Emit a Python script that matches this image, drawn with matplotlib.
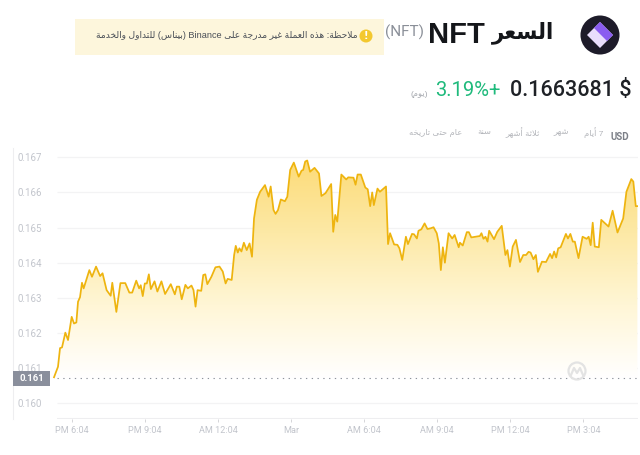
import matplotlib
matplotlib.use('Agg')
import matplotlib.pyplot as plt
import numpy as np
from matplotlib.colors import LinearSegmentedColormap
from matplotlib.patches import Circle, Polygon, Rectangle

# minutes since the PM 6:04 tick
minutes = [-43.5, -33.7, -28.7, -23.8, -15.6, -9, 0, 5.7, 11.5, 15.6, 20.5, 25.4, 29.5, 43.5, 50, 60, 70, 76, 86, 96,
           100, 110, 120, 132, 142, 149, 159, 166, 170, 175, 180, 185, 190, 195, 204, 211, 221, 230, 244, 254,
           259, 265, 271, 280, 286, 295, 300, 305, 310, 319, 324, 329, 334, 344, 354, 364, 372, 379, 384, 394,
           400, 404, 409, 413, 418, 424, 431, 438, 444, 449, 456, 464, 476, 485, 490, 497, 502, 508, 515, 525,
           531, 538, 547, 554, 559, 566, 570, 575, 580, 587, 598, 609, 615, 625, 639, 644, 649, 654, 664, 676,
           681, 694, 699, 704, 712, 723, 729, 735, 740, 744, 753, 759, 774, 779, 784, 794, 802, 807, 814, 823,
           828, 838, 843, 850, 854, 861, 869, 876, 884, 891, 899, 904, 909, 914, 919, 928, 937, 943, 953, 956,
           963, 973, 978, 984, 1005, 1009, 1014, 1019, 1024, 1028, 1040, 1048, 1059, 1068, 1073, 1079, 1086, 1094, 1104, 1112,
           1119, 1125, 1130, 1137, 1143, 1148, 1158, 1168, 1178, 1183, 1188, 1193, 1198, 1204, 1217, 1222, 1228, 1234, 1239, 1248,
           1258, 1268, 1273, 1278, 1283, 1288, 1298, 1304, 1322, 1332, 1344, 1358, 1366, 1378, 1383, 1389, 1393]
prices = [160.74, 161.04, 161.57, 161.59, 162.01, 161.80, 162.46, 162.27, 162.30, 162.89, 163.02, 163.43, 163.27, 163.79, 163.60, 163.89, 163.62, 163.70, 163.22, 163.06,
          163.43, 162.60, 163.42, 163.42, 163.15, 163.15, 163.49, 163.27, 163.36, 163.05, 163.41, 163.41, 163.67, 163.25, 163.47, 163.18, 163.47, 163.11, 163.39, 163.10,
          163.32, 163.32, 162.96, 163.37, 163.27, 163.35, 163.22, 162.75, 163.22, 163.20, 163.65, 163.67, 163.39, 163.60, 163.87, 163.89, 163.75, 163.41, 163.54, 163.51,
          164.22, 164.48, 164.29, 164.41, 164.32, 164.57, 164.36, 164.55, 164.17, 165.26, 165.79, 166.02, 166.21, 165.88, 166.17, 165.50, 165.39, 165.50, 165.80, 165.75,
          165.88, 166.64, 166.85, 166.62, 166.45, 166.62, 166.64, 166.88, 166.91, 166.59, 166.70, 166.54, 165.90, 165.98, 166.24, 164.88, 165.36, 165.17, 166.51, 166.37,
          166.43, 166.42, 166.22, 166.51, 166.51, 166.14, 166.09, 165.61, 166.00, 165.64, 166.11, 166.02, 166.17, 164.53, 164.84, 164.52, 164.51, 164.41, 164.08, 164.74,
          164.53, 164.82, 164.81, 164.69, 164.91, 164.95, 165.12, 164.96, 164.98, 165.01, 164.84, 164.55, 163.79, 164.44, 164.00, 164.84, 164.69, 164.79, 164.44, 164.57,
          164.49, 164.87, 164.87, 164.72, 164.76, 164.84, 164.68, 164.74, 164.60, 164.91, 164.67, 164.88, 165.05, 164.22, 164.36, 163.89, 164.46, 164.65, 164.02, 164.22,
          164.22, 164.31, 164.29, 164.10, 164.22, 163.74, 164.03, 164.02, 164.25, 164.13, 164.32, 164.15, 164.41, 164.44, 164.82, 164.69, 164.82, 164.60, 164.60, 164.13,
          164.74, 164.68, 164.74, 164.50, 165.14, 164.46, 164.44, 165.22, 165.03, 165.48, 164.86, 165.26, 166.02, 166.38, 166.31, 165.61, 165.61]

x_tick_pos = [0, 180, 360, 540, 720, 900, 1080, 1260]
x_tick_labels = ['PM 6:04', 'PM 9:04', 'AM 12:04', 'Mar', 'AM 6:04', 'AM 9:04', 'PM 12:04', 'PM 3:04']
y_ticks = [160, 161, 162, 163, 164, 165, 166, 167]
start_price = 160.71

note_text = 'ملاحظة: هذه العملة غير مُدرجة على Binance (بيناس) للتداول والخدمة'
title_text = 'السعر'
period_labels = ['7 أيام', 'شهر', 'ثلاثة أشهر', 'سنة', 'عام حتى تاريخه']
period_right = [603, 569, 540, 491, 462]

# isolated, final, initial, medial; two forms only for letters that don't join forward
forms = {
    'ا': 'ﺍﺎ', 'أ': 'ﺃﺄ', 'ة': 'ﺓﺔ', 'د': 'ﺩﺪ', 'ذ': 'ﺫﺬ', 'ر': 'ﺭﺮ', 'و': 'ﻭﻮ', 'ى': 'ﻯﻰ',
    'ب': 'ﺏﺐﺑﺒ', 'ت': 'ﺕﺖﺗﺘ', 'ث': 'ﺙﺚﺛﺜ', 'ج': 'ﺝﺞﺟﺠ', 'ح': 'ﺡﺢﺣﺤ', 'خ': 'ﺥﺦﺧﺨ',
    'س': 'ﺱﺲﺳﺴ', 'ش': 'ﺵﺶﺷﺸ', 'ظ': 'ﻅﻆﻇﻈ', 'ع': 'ﻉﻊﻋﻌ', 'غ': 'ﻍﻎﻏﻐ', 'ل': 'ﻝﻞﻟﻠ',
    'م': 'ﻡﻢﻣﻤ', 'ن': 'ﻥﻦﻧﻨ', 'ه': 'ﻩﻪﻫﻬ', 'ي': 'ﻱﻲﻳﻴ', 'ك': 'ﻙﻚﻛﻜ',
}
lam_alef = {'ا': 'ﻻﻼ', 'أ': 'ﻷﻸ'}


def shape_word(word):
    # matplotlib has no arabic shaping, so build the visual form of the word
    out = []
    letters = [c for c in word if c != 'ُ']
    i = 0
    while i < len(letters):
        c = letters[i]
        if c not in forms:
            out.append({'(': ')', ')': '('}.get(c, c))
            i += 1
            continue
        prev = letters[i - 1] if i > 0 else ''
        joins_prev = prev in forms and len(forms[prev]) == 4
        if c == 'ل' and i + 1 < len(letters) and letters[i + 1] in lam_alef:
            out.append(lam_alef[letters[i + 1]][1 if joins_prev else 0])
            i += 2
            continue
        nxt = letters[i + 1] if i + 1 < len(letters) else ''
        joins_next = len(forms[c]) == 4 and nxt in forms
        idx = {(False, False): 0, (True, False): 1, (False, True): 2, (True, True): 3}[(joins_prev, joins_next)]
        out.append(forms[c][idx])
        i += 1
    return ''.join(reversed(out))


def shape(text):
    words = []
    for w in text.split(' '):
        words.append(w if w.isascii() else shape_word(w))
    return ' '.join(reversed(words))


arabic = ['Liberation Sans', 'DejaVu Sans']
fig = plt.figure(figsize=(6.4, 4.55), dpi=100, facecolor='white')

# main chart, axes runs from the faint left rule to the right edge of the plot
ax = fig.add_axes([13 / 640, (455 - 419.3) / 455, (638 - 13) / 640, (419.3 - 148) / 455])
ax.set_xlim(-144.5, 1394.5)
ax.set_ylim(159.544, 167.265)
ax.set_facecolor('none')
for s in ['top', 'right']:
    ax.spines[s].set_visible(False)
ax.spines['left'].set_color('#eeeef0')
ax.spines['bottom'].set_visible(False)

ax.hlines(y_ticks, -36, 1394.5, color='#f3f3f4', lw=0.9, zorder=1)
ax.hlines(159.544, -36, 1394.5, color='#eeeef0', lw=1.5, zorder=1)

ax.set_yticks(y_ticks)
ax.set_yticklabels(['%.3f' % (v / 1000) for v in y_ticks], ha='left', fontsize=7, color='#c2c5cc',
                   fontfamily='Roboto')
ax.tick_params(axis='y', length=0, pad=-3.5)
ax.set_xticks(x_tick_pos)
ax.set_xticklabels(x_tick_labels, fontsize=6.6, color='#c2c5cc', fontfamily='Roboto')
ax.tick_params(axis='x', length=2, width=0.7, color='#d5d5d8', pad=3, direction='out')

# vertical fade under the line
cmap = LinearSegmentedColormap.from_list('fade', ['#ffffff', '#fff6d6', '#fde9a6', '#fcdb78'])
grad = np.linspace(0, 1, 256).reshape(-1, 1)
im = ax.imshow(grad, extent=[minutes[0], minutes[-1], start_price, 166.91], origin='lower', aspect='auto',
               cmap=cmap, zorder=2)
area = ax.fill_between(minutes, prices, start_price, color='none', lw=0)
im.set_clip_path(area.get_paths()[0], transform=ax.transData)
ax.set_xlim(-144.5, 1394.5)
ax.set_ylim(159.544, 167.265)

ax.plot(minutes, prices, color='#eeb40f', lw=1.25, zorder=3, solid_joinstyle='round')
ax.hlines(start_price, -36, 1394.5, color='#8f939c', lw=0.8, linestyles=(0, (1.2, 4)), zorder=4)

# overlay in pixel coordinates for the page furniture above the chart
top = fig.add_axes([0, 0, 1, 1])
top.set_xlim(0, 640)
top.set_ylim(455, 0)
top.axis('off')
top.patch.set_alpha(0)

top.add_patch(Rectangle((13, 370.7), 37, 15.3, color='#8a8f9c', lw=0, zorder=5))
top.text(31.5, 378.5, '0.161', color='white', fontsize=6.8, fontweight='bold', ha='center', va='center',
         fontfamily='Roboto', zorder=6)

# watermark
top.add_patch(Circle((577, 371), 8.5, fill=False, ec='#e3e3e3', lw=1.6, zorder=5))
top.plot([571, 574, 577, 580, 583], [375, 368, 373, 368, 375], color='#e3e3e3', lw=1.6, zorder=5)

# note box
top.add_patch(Rectangle((75, 19), 309, 36, color='#fdf6dc', lw=0))
top.add_patch(Circle((366, 36), 6.5, color='#f3c82f', lw=0))
top.text(366, 36, '!', color='white', fontsize=7, fontweight='bold', ha='center', va='center')
top.text(358, 36, shape(note_text), family=arabic, fontsize=6.6, color='#4a4f57', ha='right', va='center')

# header
top.text(424, 32, '(NFT)', fontfamily='Roboto', fontsize=11, color='#8a8f98', ha='right', va='center')
top.text(485, 35, 'NFT', family='Liberation Sans', fontsize=21, fontweight='bold', color='#14161a', ha='right', va='center')
top.text(554, 33, shape(title_text), family=arabic, fontsize=15.5, fontweight='bold', color='#14161a', ha='right', va='center')

# coin icon
top.add_patch(Circle((600, 35), 19.5, color='#1d1b29', lw=0))
top.add_patch(Polygon([(600, 22), (613, 35), (600, 48), (587, 35)], color='#e9defc', lw=0))
top.add_patch(Polygon([(600, 22), (613, 35), (607, 41), (594, 28)], color='#8a5cf0', lw=0))

# price row
top.text(632, 90.5, '0.1663681 $', fontfamily='Roboto', fontsize=15.5, fontweight='medium', color='#1e2126', ha='right', va='center')
top.text(501, 91, '3.19%+', fontfamily='Roboto', fontsize=14.5, color='#1fba7c', ha='right', va='center')
top.text(428, 94, shape('(يوم)'), family=arabic, fontsize=6, color='#a5a8ae', ha='right', va='center')

# period selector
top.text(629, 137, 'USD', fontfamily='Roboto', fontsize=7, fontweight='bold', color='#7b7f87', ha='right', va='center')
for label, right in zip(period_labels, period_right):
    top.text(right, 133, shape(label), family=arabic, fontsize=6, color='#b4b6bb', ha='right', va='center')

fig.savefig('out.png', dpi=100)
